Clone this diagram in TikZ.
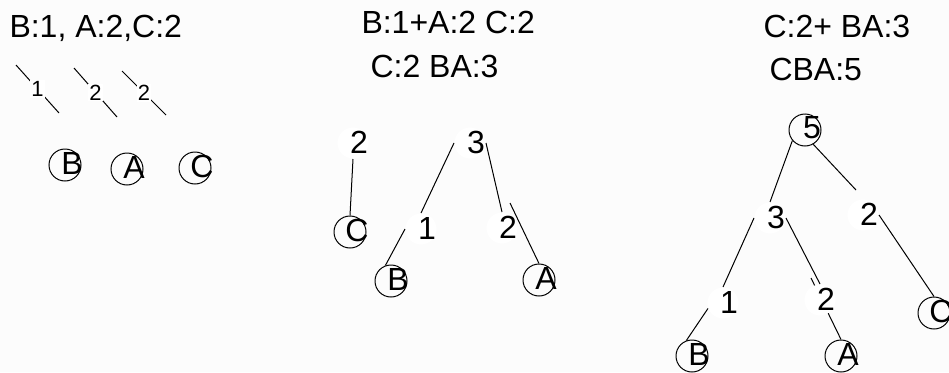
\documentclass[tikz,border=0pt]{standalone}
\usepackage{fontspec}
\setmainfont{Liberation Sans}
\begin{document}
\begin{tikzpicture}[x=1pt, y=-1pt, line width=1pt,
  every node/.style={font=\fontsize{32}{38}\selectfont},
  leaf/.style={draw, circle, minimum size=32pt, inner sep=0pt, label={[xshift=7pt,yshift=2pt]center:#1}},
  num/.style={fill=white, circle, minimum size=31pt, inner sep=0pt, label={[xshift=6pt,yshift=1pt]center:#1}}]
\tikzstyle{elab}=[fill=white, inner sep=1pt, font=\fontsize{22}{26}\selectfont]
\tikzstyle{title}=[anchor=base west, inner sep=0pt]
\fill[gray!2] (0,0) rectangle (949,372);
\useasboundingbox (0,0) rectangle (949,372);
% first step: single symbols
\node[title] (t1) at (9,37) {B:1, A:2,C:2};
\node[leaf=B] (b0) at (65,165) {};
\node[leaf=A] (a0) at (127,169) {};
\node[leaf=C] (c0) at (195,168) {};
\coordinate (u1) at (16,65);  \coordinate (v1) at (59,113);
\coordinate (u2) at (74,68);  \coordinate (v2) at (117,117);
\coordinate (u3) at (122,71); \coordinate (v3) at (166,115);
\draw (u1) -- node[elab] (w1) {1} (v1);
\draw (u2) -- node[elab] (w2) {2} (v2);
\draw (u3) -- node[elab] (w3) {2} (v3);
% second step: B and A merged
\node[title] (t2) at (361,33) {B:1+A:2 C:2};
\node[title] (t3) at (370,77) {C:2 BA:3};
\node[leaf=C] (mc) at (350,232) {};
\node[leaf=B] (mb) at (391,281) {};
\node[leaf=A] (ma) at (539,280) {};
\node[num=2] (m2c) at (353,143) {};
\node[num=3] (m3) at (470,143) {};
\node[num=1] (m1) at (421,229) {};
\node[num=2] (m2) at (502,228) {};
\coordinate (m2up) at (510,203);
\draw (m2c.south) -- (mc.north);
\draw (m3.west) -- (m1.north);
\draw (m3.east) -- (m2.north);
\draw (m1.west) -- (mb.110);
\draw (m2up) -- (ma.north);
% third step: full tree
\node[title] (t4) at (763,37) {C:2+ BA:3};
\node[title] (t5) at (769,80) {CBA:5};
\node[leaf=B] (rb) at (692,356) {};
\node[leaf=A] (ra) at (841,356) {};
\node[leaf=C] (rc) at (934,313) {};
\node[leaf=5] (r5) at (805,130) {};
\coordinate (r2up) at (811,278);
\draw (r2up) -- (ra.north);
\node[num=3] (r3) at (770,218) {};
\node[num=2] (r2a) at (863,215) {};
\node[num=1] (r1) at (723,303) {};
\node[num=2] (r2b) at (820,300) {};
\coordinate (r2top) at (856,190);
\draw (r5.220) -- (r3.north);
\draw (r5.300) -- (r2top);
\draw (r3.west) -- (r1.north);
\draw (r3.east) -- (r2b.north);
\draw (r2a.east) -- (rc.north);
\draw (r1.200) -- (rb.110);
\end{tikzpicture}
\end{document}
